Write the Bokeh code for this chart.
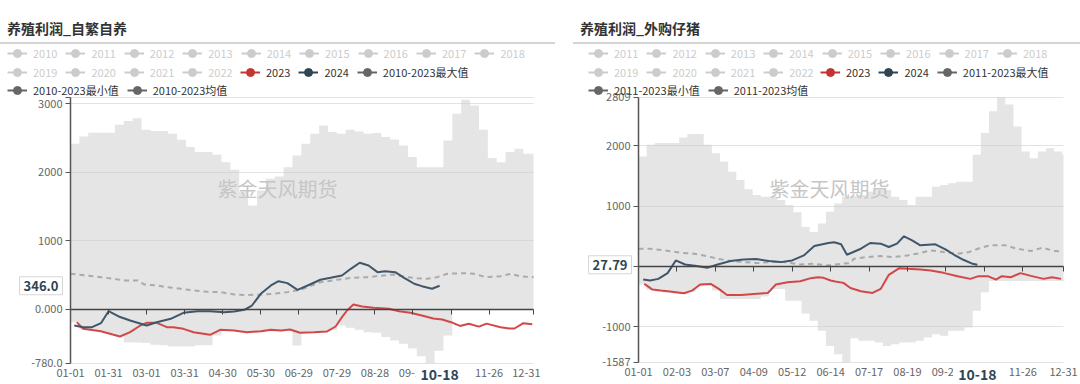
import math
from bokeh.plotting import figure
from bokeh.models import Range1d, FixedTicker, Label, Legend, LegendItem, Div, LinearAxis, Grid
from bokeh.layouts import column, row
from bokeh.embed import file_html
from bokeh.resources import INLINE

FONT = "Noto Sans CJK SC"
WATERMARK = "紫金天风期货"
POINTER_DATE = "10-18"
POINTER_DAY = 291
NAN = float("nan")

# weekly envelope positions (day of year) + closing edge
WEEK_X = list(range(0, 365, 7)) + [365]

# ---------------- left chart: 养殖利润_自繁自养 ----------------
L_TITLE = "养殖利润_自繁自养"
L_GRAY_ROW1 = ["2010", "2011", "2012", "2013", "2014", "2015", "2016", "2017", "2018"]
L_GRAY_ROW2 = ["2019", "2020", "2021", "2022"]
L_ACT_ROW2 = ["2023", "2024", "2010-2023最大值"]
L_ACT_ROW3 = ["2010-2023最小值", "2010-2023均值"]

L_MAX = [2416, 2523, 2577, 2577, 2577, 2693, 2746, 2786, 2620, 2600, 2600, 2562, 2474, 2367,
         2294, 2294, 2256, 2148, 2037, 1711, 1517, 1735, 1906, 1940, 2075, 2246, 2416, 2562,
         2683, 2586, 2562, 2620, 2596, 2562, 2572, 2513, 2479, 2392, 2221, 2075, 2075, 2075,
         2465, 2854, 3058, 2975, 2620, 2207, 2148, 2294, 2343, 2270, 2270]
L_MIN = [-185, -290, -300, -316, -350, -394, -480, -480, -490, -515, -520, -540, -540, -540,
         -520, -520, -380, -300, -310, -335, -340, -330, -320, -320, -306, -525, -331, -331,
         -331, -300, -233, -267, -296, -331, -340, -400, -452, -500, -570, -680, -780, -600,
         -379, 0, 0, 0, 0, 0, 0, 0, 0, 0, 0]

L_D23 = [5, 10, 24, 39, 47, 55, 60, 68, 76, 81, 89, 97, 110, 118, 129, 139, 150, 158, 166, 173,
         181, 192, 202, 209, 214, 218, 223, 230, 239, 251, 259, 268, 277, 286, 293, 300, 307, 314,
         322, 328, 339, 346, 350, 357, 364]
L_V23 = [-185, -282, -316, -394, -331, -233, -194, -194, -258, -258, -282, -331, -369, -296, -306,
         -331, -316, -296, -306, -292, -340, -331, -321, -248, -112, -15, 73, 44, 25, 10, -25, -48,
         -87, -131, -146, -185, -240, -209, -250, -206, -258, -277, -277, -199, -216]

L_D24 = [3, 10, 17, 24, 27, 30, 38, 47, 60, 68, 79, 89, 100, 110, 121, 129, 137, 143, 150, 158,
         164, 171, 179, 187, 197, 205, 214, 221, 228, 235, 242, 248, 256, 263, 271, 277, 285, 291]
L_V24 = [-233, -258, -258, -200, -112, -25, -102, -160, -233, -185, -136, -48, -25, -25, -39, -29,
         -4, 58, 229, 350, 413, 384, 287, 350, 433, 462, 496, 593, 681, 642, 544, 559, 544, 462,
         375, 340, 302, 346]

L_DMEAN = [0, 13, 24, 34, 42, 53, 58, 68, 76, 87, 97, 108, 118, 129, 139, 150, 160, 171, 181, 187,
           197, 210, 222, 234, 244, 255, 265, 273, 281, 289, 297, 310, 318, 328, 339, 347, 355, 365]
L_VMEAN = [520, 496, 471, 447, 423, 423, 365, 350, 325, 301, 277, 258, 253, 219, 209, 219, 229,
           253, 287, 325, 398, 433, 462, 471, 491, 510, 471, 457, 447, 471, 520, 530, 520, 471,
           486, 520, 481, 471]

L_XTICKS = [0, 30, 60, 90, 120, 150, 180, 210, 240, 270, 300, 330, 365]
L_XLABELS = ["01-01", "01-31", "03-01", "03-31", "04-30", "05-30", "06-29", "07-29", "08-28",
             "09-27", "", "11-26", "12-31"]
L_YTICKS = [-780, 0, 1000, 2000, 3000, 3090]
L_YLABELS = ["-780.0", "0.000", "1000", "2000", "3000", ""]
L_YRANGE = (-780, 3090)
L_POINTER = "346.0"

# ---------------- right chart: 养殖利润_外购仔猪 ----------------
R_TITLE = "养殖利润_外购仔猪"
R_GRAY_ROW1 = ["2011", "2012", "2013", "2014", "2015", "2016", "2017", "2018"]
R_GRAY_ROW2 = ["2019", "2020", "2021", "2022"]
R_ACT_ROW2 = ["2023", "2024", "2011-2023最大值"]
R_ACT_ROW3 = ["2011-2023最小值", "2011-2023均值"]

R_MAX = [1822, 2017, 2045, 2045, 2045, 2139, 2195, 2195, 2017, 1878, 1739, 1572, 1433, 1278,
         1183, 1155, 1155, 1100, 1017, 900, 656, 572, 711, 906, 1044, 1155, 1167, 1183, 1239,
         1267, 1267, 1155, 1100, 1017, 1155, 1155, 1322, 1350, 1378, 1405, 1405, 1850, 2212,
         2572, 2809, 2683, 2322, 1905, 1794, 1905, 1961, 1905, 1850]
R_MIN = [-300, -390, -410, -430, -450, -460, -420, -330, -300, -400, -539, -539, -539, -539,
         -539, -500, -372, -372, -567, -567, -778, -900, -1067, -1317, -1456, -1587, -1189,
         -1233, -1233, -1261, -1317, -1289, -1261, -1261, -1233, -1178, -1122, -1150, -1067,
         -1067, -1011, -733, -428, -240, -240, -240, -240, -240, -240, -240, -240, -240, -240]

R_D23 = [5, 12, 19, 27, 39, 46, 53, 62, 69, 76, 88, 99, 111, 118, 128, 139, 148, 154, 159, 165,
         169, 176, 182, 191, 201, 208, 215, 224, 231, 242, 251, 262, 274, 285, 292, 300, 307, 312,
         320, 328, 337, 348, 355, 363]
R_V23 = [-289, -383, -400, -417, -444, -400, -300, -289, -372, -472, -472, -456, -439, -300, -261,
         -244, -194, -178, -189, -233, -250, -272, -356, -411, -439, -372, -139, -28, -39, -50,
         -67, -106, -161, -206, -161, -161, -217, -161, -178, -111, -156, -206, -178, -206]

R_D24 = [4, 10, 17, 25, 32, 40, 50, 59, 68, 79, 90, 101, 112, 122, 132, 142, 151, 163, 168, 174,
         179, 191, 199, 208, 215, 222, 228, 235, 242, 255, 264, 271, 279, 287, 291]
R_V24 = [-217, -233, -206, -111, 100, 33, 6, -22, 33, 89, 117, 122, 89, 72, 100, 183, 339, 389,
         400, 367, 194, 294, 389, 378, 322, 378, 500, 433, 350, 367, 278, 194, 111, 44, 27.79]

R_DMEAN = [0, 10, 22, 36, 48, 56, 68, 79, 90, 102, 113, 125, 139, 151, 163, 174, 182, 185, 196,
           208, 219, 231, 242, 251, 262, 274, 284, 294, 302, 315, 325, 337, 347, 357, 364]
R_VMEAN = [294, 294, 267, 228, 211, 183, 128, 89, 72, 56, 72, 72, 33, 44, 17, 44, 56, 128, 156,
           172, 156, 183, 222, 267, 239, 211, 239, 311, 350, 350, 294, 256, 311, 256, 250]

R_XTICKS = [0, 33, 66, 99, 132, 165, 198, 231, 264, 297, 330, 365]
R_XLABELS = ["01-01", "02-03", "03-07", "04-09", "05-12", "06-14", "07-17", "08-19", "09-21",
             "", "11-26", "12-31"]
R_YTICKS = [-1587, -1000, 0, 1000, 2000, 2809]
R_YLABELS = ["-1587", "-1000", "", "1000", "2000", "2809"]
R_YRANGE = (-1587, 2809)
R_POINTER = "27.79"

GRAY = "#cccccc"
ACTIVE_COLORS = ["#c23531", "#2f4554", "#666666"]
ACTIVE_COLORS3 = ["#666666", "#666666"]
RED_LINE = "#d24848"
NAVY_LINE = "#40566a"
POINTER_COLOR = "#2f4554"
AXIS_COLOR = "#444444"
GRID_COLOR = "#e2e2e2"

FIG_W, FIG_H = 540, 339          # each chart canvas (legend + plot + date labels)
HAS_CROSS = "cross_bounds" in Grid.properties()


def span_range(v0, v1, p0, p1, lo, hi):
    """values shown at canvas pixels lo..hi when v0 sits at pixel p0 and v1 at pixel p1"""
    k = (v1 - v0) / (p1 - p0)
    return Range1d(v0 + (lo - p0) * k, v0 + (hi - p0) * k)


def make_items(p, names, colors):
    items = []
    for n, c in zip(names, colors):
        ln = p.line(x=[NAN], y=[NAN], line_color=c, line_width=2)
        sc = p.scatter(x=[NAN], y=[NAN], marker="circle", size=8, fill_color=c, line_color=c)
        items.append(LegendItem(label=n, renderers=[ln, sc]))
    return items


def add_legend(p, items, loc, text_color):
    lg = Legend(items=items, location=loc, orientation="horizontal", padding=0, margin=0,
                spacing=8, glyph_width=20, glyph_height=20, label_height=20, label_standoff=6,
                label_text_font=FONT, label_text_font_size="11px", label_text_color=text_color,
                background_fill_alpha=0, border_line_alpha=0)
    p.add_layout(lg, "center")


def build(c):
    y0, y1 = c["yr"]
    p = figure(width=FIG_W, height=FIG_H,
               x_range=span_range(0, 365, c["px0"], c["px1"], 0, FIG_W),
               y_range=span_range(y0, y1, c["py0"], c["py1"], 0, FIG_H),
               output_backend="svg", toolbar_location=None, min_border=0)
    p.outline_line_color = None
    p.xgrid.visible = False
    p.ygrid.ticker = FixedTicker(ticks=c["yticks"])
    p.ygrid.grid_line_color = GRID_COLOR
    if HAS_CROSS:
        p.ygrid.cross_bounds = (0, 365)
        p.ygrid.bounds = (y0, y1)
    else:
        p.ygrid.visible = False
        n = len(c["yticks"])
        p.segment(x0=[0] * n, x1=[365] * n, y0=c["yticks"], y1=c["yticks"],
                  line_color=GRID_COLOR, line_width=1, level="underlay")

    ymax = c["max"] + [c["max"][-1]]
    ymin = c["min"] + [c["min"][-1]]
    p.varea_step(x=WEEK_X, y1=ymin, y2=ymax, step_mode="after",
                 fill_color="#cccccc", fill_alpha=0.5)

    p.add_layout(Label(x=c["wm_x"], y=196, x_units="screen", y_units="screen",
                       text=WATERMARK, text_font=FONT, text_font_size="20px",
                       text_color="#c6c6c6", text_align="center", text_baseline="middle"))

    p.line(c["dmean"], c["vmean"], line_color="#aaaaaa", line_width=2, line_dash="5 4")
    p.line(c["d23"], c["v23"], line_color=RED_LINE, line_width=2)
    p.line(c["d24"], c["v24"], line_color=NAVY_LINE, line_width=2)

    # date labels along the bottom of the plot area
    ax = p.xaxis[0]
    ax.fixed_location = y0
    ax.ticker = FixedTicker(ticks=c["xticks"])
    ax.major_label_overrides = dict(zip(c["xticks"], c["xlabels"]))
    ax.axis_line_color = None
    ax.major_tick_line_color = None
    ax.minor_tick_line_color = None
    ax.major_tick_out = 0
    ax.minor_tick_out = 0
    ax.major_label_standoff = 6
    ax.major_label_text_font = FONT
    ax.major_label_text_font_size = "11px"
    ax.major_label_text_color = "#666666"

    ay = p.yaxis[0]
    ay.fixed_location = 0
    ay.bounds = (y0, y1)
    ay.ticker = FixedTicker(ticks=c["yticks"])
    ay.major_label_overrides = dict(zip(c["yticks"], c["ylabels"]))
    ay.axis_line_color = "#555555"
    ay.axis_line_width = 1.5
    ay.major_tick_line_color = "#555555"
    ay.major_tick_out = 5
    ay.major_tick_in = 0
    ay.minor_tick_line_color = None
    ay.minor_tick_out = 0
    ay.major_label_standoff = 3
    ay.major_label_text_font = FONT
    ay.major_label_text_font_size = "11px"
    ay.major_label_text_color = "#666666"

    # category axis line drawn on zero, with its ticks
    zero_axis = LinearAxis(fixed_location=0, bounds=(0, 365),
                           ticker=FixedTicker(ticks=c["xticks"]),
                           major_label_overrides={t: "" for t in c["xticks"]},
                           axis_line_color=AXIS_COLOR, axis_line_width=1.5,
                           major_tick_line_color=AXIS_COLOR, major_tick_out=5, major_tick_in=0,
                           minor_tick_line_color=None, minor_tick_out=0)
    p.add_layout(zero_axis, "below")

    # axis pointer labels
    p.add_layout(Label(x=POINTER_DAY, y=10, y_units="screen", text=POINTER_DATE,
                       text_align="center", text_baseline="middle", text_font=FONT,
                       text_font_size="14px", text_font_style="bold", text_color=POINTER_COLOR,
                       background_fill_color="white", padding=5))
    p.add_layout(Label(x=c["ptr_x"], y=c["ptr_val"], x_units="screen", text=c["ptr_text"],
                       text_align="right", text_baseline="middle", text_font=FONT,
                       text_font_size="13px", text_font_style="bold", text_color=POINTER_COLOR,
                       background_fill_color="white", border_line_color="#d6d6d6", padding=4))

    # legend rows
    lx = c["leg_x"]
    add_legend(p, make_items(p, c["g1"], [GRAY] * len(c["g1"])), (lx, 321), GRAY)
    add_legend(p, make_items(p, c["g2"], [GRAY] * len(c["g2"])), (lx, 302), GRAY)
    add_legend(p, make_items(p, c["a2"], ACTIVE_COLORS), (c["leg_x2"], 302), "#333333")
    add_legend(p, make_items(p, c["a3"], ACTIVE_COLORS3), (lx, 284), "#333333")
    return p


LCFG = dict(px0=70, px1=533, py0=21.5, py1=287, yr=L_YRANGE, yticks=L_YTICKS,
            ylabels=L_YLABELS, xticks=L_XTICKS, xlabels=L_XLABELS, max=L_MAX, min=L_MIN,
            d23=L_D23, v23=L_V23, d24=L_D24, v24=L_V24, dmean=L_DMEAN, vmean=L_VMEAN,
            wm_x=277, ptr_x=62, ptr_val=L_V24[-1], ptr_text=L_POINTER,
            leg_x=7, leg_x2=240, g1=L_GRAY_ROW1, g2=L_GRAY_ROW2, a2=L_ACT_ROW2, a3=L_ACT_ROW3)
RCFG = dict(px0=98, px1=523, py0=22.3, py1=287.5, yr=R_YRANGE, yticks=R_YTICKS,
            ylabels=R_YLABELS, xticks=R_XTICKS, xlabels=R_XLABELS, max=R_MAX, min=R_MIN,
            d23=R_D23, v23=R_V23, d24=R_D24, v24=R_V24, dmean=R_DMEAN, vmean=R_VMEAN,
            wm_x=289, ptr_x=91, ptr_val=R_V24[-1], ptr_text=R_POINTER,
            leg_x=48, leg_x2=280, g1=R_GRAY_ROW1, g2=R_GRAY_ROW2, a2=R_ACT_ROW2, a3=R_ACT_ROW3)

title_style = ("position:absolute;top:19px;font-size:14px;font-weight:bold;color:#333;"
               "line-height:18px;white-space:nowrap;")
html = (
    f'<div style="position:relative;width:1080px;height:45px;font-family:\'{FONT}\';">'
    f'<div style="{title_style}left:7px;">{L_TITLE}</div>'
    f'<div style="position:absolute;left:0px;top:42px;width:555px;height:2px;background:#d4d4d4;"></div>'
    f'<div style="{title_style}left:580px;">{R_TITLE}</div>'
    f'<div style="position:absolute;left:573px;top:42px;width:507px;height:2px;background:#d4d4d4;"></div>'
    f'</div>'
)
top = Div(text=html, width=1080, height=45, margin=(0, 0, 0, 0))

layout = column(top, row(build(LCFG), build(RCFG)))
open("out.html", "w").write(file_html(layout, INLINE))
